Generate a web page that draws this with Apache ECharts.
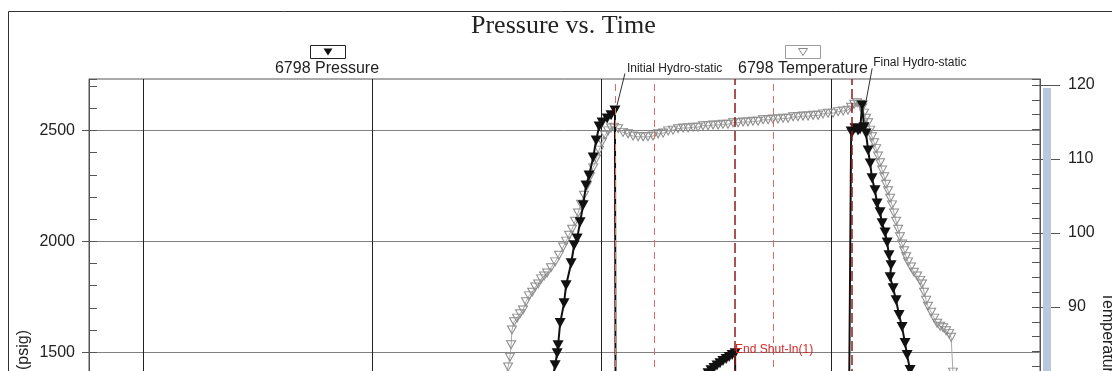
<!DOCTYPE html>
<html>
<head>
<meta charset="utf-8">
<title>Pressure vs. Time</title>
<script src="https://cdn.jsdelivr.net/npm/echarts@6.0.0/dist/echarts.min.js"></script>
<style>
  html, body { margin: 0; padding: 0; background: #fff; }
  #chart { width: 1112px; height: 371px; }
</style>
</head>
<body>
<div id="chart"></div>
<script>
(function () {
  'use strict';

  /* values: time in hours, pressure in psig, temperature */
  var pressureTime = [2.780, 2.797, 2.806, 2.810, 2.819, 2.836, 2.845, 2.867, 2.880, 2.893,
    2.906, 2.919, 2.932, 2.945, 2.963, 2.976, 2.989, 3.002, 3.024, 3.041, 3.058,
    3.063, 3.167, 3.229,
    3.255, 3.298, 3.364, 3.416, 3.451, 3.464, 3.477, 3.490, 3.503, 3.516, 3.529, 3.543, 3.556, 3.569, 3.582,
    3.586, 3.752, 3.822, 3.952, 4.079,
    4.088, 4.092, 4.105, 4.118, 4.127, 4.136, 4.144, 4.153, 4.162, 4.171, 4.179, 4.192, 4.201,
    4.214, 4.223, 4.236, 4.245, 4.253, 4.262, 4.258, 4.271, 4.284, 4.297, 4.310, 4.323, 4.332, 4.345, 4.358];
  var pressureValue = [1350, 1441, 1495, 1531, 1631, 1721, 1802, 1901, 1982, 2013,
    2086, 2162, 2252, 2297, 2378, 2455, 2518, 2536, 2554, 2568, 2590,
    150, 210, 250,
    900, 1180, 1320, 1370, 1392, 1405, 1418, 1429, 1440, 1450, 1460, 1469, 1478, 1487, 1495,
    380, 520, 1050, 1230, 1290,
    2495, 2491, 2510, 2500, 2505, 2613, 2514, 2486, 2410, 2351, 2284, 2230, 2171,
    2131, 2081, 2040, 1995, 1937, 1892, 1838, 1788, 1734, 1667, 1613, 1541, 1487, 1419, 1351];

  var tempTime = [2.579, 2.592, 2.600, 2.605, 2.609, 2.618, 2.631, 2.644, 2.657, 2.670,
    2.683, 2.697, 2.710, 2.723, 2.736, 2.749, 2.762, 2.779, 2.797, 2.814,
    2.832, 2.845, 2.858, 2.871, 2.884, 2.897, 2.910, 2.923, 2.936, 2.949,
    2.963, 2.976, 2.989, 3.002, 3.015, 3.028, 3.041, 3.054,
    3.072, 3.093, 3.115, 3.137, 3.159, 3.181, 3.202, 3.224, 3.246, 3.268,
    3.290, 3.311, 3.333, 3.355, 3.377, 3.399, 3.420, 3.442, 3.464, 3.486,
    3.508, 3.529, 3.551, 3.573, 3.595, 3.617, 3.638, 3.660, 3.682, 3.704,
    3.726, 3.747, 3.769, 3.791, 3.813, 3.835, 3.856, 3.878, 3.900, 3.922,
    3.944, 3.965, 3.987, 4.009, 4.031, 4.053, 4.074, 4.088, 4.101, 4.114, 4.127,
    4.136, 4.144, 4.153, 4.162, 4.171, 4.179, 4.188, 4.197, 4.205, 4.214,
    4.223, 4.232, 4.240, 4.249, 4.258, 4.266, 4.275, 4.284, 4.293, 4.301,
    4.310, 4.319, 4.328, 4.336, 4.349, 4.362, 4.376, 4.389, 4.397, 4.406,
    4.415, 4.423, 4.437, 4.450, 4.463, 4.476, 4.489, 4.502, 4.515, 4.524, 4.532, 4.541];
  var tempValue = [80.4, 81.9, 83.2, 84.9, 86.9, 88.0, 88.5, 89.1, 89.6, 90.7,
    91.5, 92.0, 92.7, 93.1, 93.8, 94.2, 94.6, 95.3, 96.1, 97.0,
    98.1, 98.9, 99.7, 100.5, 101.6, 102.7, 103.9, 105.1, 106.4, 107.6,
    108.8, 110.0, 111.2, 112.3, 113.2, 113.8, 114.2, 114.3,
    114.1, 113.6, 113.4, 113.1, 113.0, 113.0, 113.0, 113.1, 113.4, 113.5,
    113.8, 113.9, 114.1, 114.2, 114.2, 114.3, 114.3, 114.5, 114.5, 114.6,
    114.6, 114.7, 114.7, 114.9, 114.9, 115.0, 115.0, 115.1, 115.1, 115.3,
    115.3, 115.4, 115.4, 115.5, 115.5, 115.7, 115.7, 115.8, 115.8, 115.9,
    115.9, 116.1, 116.2, 116.2, 116.4, 116.5, 116.6, 117.0, 117.4, 117.6, 117.4,
    116.9, 116.2, 115.5, 114.9, 113.9, 113.0, 112.2, 111.4, 110.4, 109.5,
    108.5, 107.6, 106.6, 105.7, 104.7, 103.8, 102.7, 101.6, 100.5, 99.5,
    98.5, 97.6, 96.8, 96.1, 95.4, 94.7, 94.2, 93.6, 93.1, 92.0,
    90.9, 90.1, 89.3, 88.5, 87.8, 87.4, 87.2, 86.8, 86.4, 85.9, 81.2, 74.7];

  var flowEventTime = [3.063, 3.235, 3.752];
  var shutEventTime = [3.580, 4.090];

  var annotationText = ['Initial Hydro-static', 'Final Hydro-static', 'End Shut-In(1)'];
  var annotationTime = [3.058, 4.136, 3.582];
  var annotationPressure = [2590, 2613, 1495];

  var legendText = ['6798 Pressure', '6798 Temperature'];
  var axisNames = ['Pressure (psig)', 'Temperature (\u00b0F)'];

  function pairs(xs, ys) {
    return xs.map(function (x, i) { return [x, ys[i]]; });
  }

  var font = '"Liberation Sans", Arial, sans-serif';
  var tickColor = '#555';
  var plain = function (v) { return String(v); };

  var chart = echarts.init(document.getElementById('chart'));

  function eventLine(color, width, dash) {
    return function (t) {
      return { xAxis: t, lineStyle: { color: color, width: width, type: dash } };
    };
  }

  function innerTicks(grid, pos, min, max, step) {
    return {
      type: 'value', gridIndex: grid, position: pos, min: min, max: max, interval: step,
      axisLine: { show: false },
      axisTick: { show: true, inside: true, length: 8, lineStyle: { color: tickColor } },
      minorTick: { show: true, splitNumber: 5, length: 8, lineStyle: { color: tickColor } },
      axisLabel: { show: false },
      splitLine: { show: false }
    };
  }

  var xBase = {
    type: 'value', min: 0.7645, max: 4.9115, minInterval: 1, maxInterval: 1,
    axisLine: { show: false }, axisTick: { show: false }, axisLabel: { show: false }
  };

  chart.setOption({
    animation: false,
    backgroundColor: '#fff',
    title: {
      text: 'Pressure vs. Time',
      left: 466,
      top: 8,
      textStyle: { fontFamily: '"Liberation Serif", "Times New Roman", serif', fontSize: 26, fontWeight: 'normal', color: '#222' }
    },
    grid: [
      { left: 89, right: 72, top: 79, height: 384, outerBoundsMode: 'none', containLabel: false,
        show: true, borderColor: '#555', borderWidth: 1 },
      { left: 89, right: 72, top: 79, height: 450, outerBoundsMode: 'none', containLabel: false, show: false }
    ],
    xAxis: [
      Object.assign({}, xBase, {
        gridIndex: 0,
        splitLine: { show: true, showMinLine: false, showMaxLine: false, lineStyle: { color: '#222', width: 1 } }
      }),
      Object.assign({}, xBase, { gridIndex: 1, show: false, splitLine: { show: false } })
    ],
    yAxis: [
      {
        type: 'value', gridIndex: 0, position: 'left', min: 1000, max: 2732, interval: 500,
        axisLine: { show: true, onZero: false, lineStyle: { color: tickColor } },
        axisTick: { show: true, inside: false, length: 7, lineStyle: { color: tickColor } },
        axisLabel: { margin: 14, fontSize: 16, color: '#222', fontFamily: font, formatter: plain,
          showMaxLabel: false, showMinLabel: false },
        splitLine: { show: true, showMaxLine: false, lineStyle: { color: '#808080', width: 1 } }
      },
      innerTicks(0, 'left', 1000, 2732, 500),
      {
        type: 'value', gridIndex: 1, position: 'right', min: 60, max: 120.81, interval: 10,
        axisLine: { show: true, onZero: false, lineStyle: { color: tickColor } },
        axisTick: { show: true, inside: false, length: 20, lineStyle: { color: tickColor } },
        axisLabel: { margin: 28, fontSize: 16, color: '#222', fontFamily: font, formatter: plain, showMaxLabel: false },
        splitLine: { show: false }
      },
      innerTicks(1, 'right', 60, 120.81, 10)
    ],
    series: [
      {
        name: legendText[1],
        type: 'line',
        xAxisIndex: 1,
        yAxisIndex: 2,
        data: pairs(tempTime, tempValue),
        showAllSymbol: true,
        symbol: 'triangle',
        symbolRotate: 180,
        symbolSize: [9, 8],
        itemStyle: { color: 'rgba(255,255,255,0)', borderColor: '#8a8a8a', borderWidth: 1 },
        lineStyle: { color: '#a8a8a8', width: 1 },
        z: 2
      },
      {
        name: legendText[0],
        type: 'line',
        xAxisIndex: 0,
        yAxisIndex: 0,
        data: pairs(pressureTime, pressureValue),
        showAllSymbol: true,
        symbol: 'triangle',
        symbolRotate: 180,
        symbolSize: [11, 10],
        itemStyle: { color: '#111' },
        lineStyle: { color: '#111', width: 2 },
        z: 3,
        markLine: {
          silent: true,
          symbol: 'none',
          label: { show: false },
          data: flowEventTime.map(eventLine('#e06a6a', 1, [7, 5]))
            .concat(shutEventTime.map(eventLine('#8e1b1b', 1.5, [10, 4])))
        }
      }
    ]
  });

  /* labels and decorations placed from the axes' own scales */
  var px = function (i) {
    return chart.convertToPixel({ gridIndex: 0 }, [annotationTime[i], annotationPressure[i]]);
  };
  var ini = px(0), fin = px(1), esi = px(2);
  var bandTop = chart.convertToPixel({ yAxisIndex: 2 }, 119.6);
  var labelFont = '12px ' + font;

  var graphics = [
    { type: 'rect', silent: true, z: 0, shape: { x: 8.5, y: 11.5, width: 1200, height: 500 },
      style: { fill: 'none', stroke: '#333', lineWidth: 1 } },
    { type: 'rect', silent: true, z: 1, shape: { x: 1043, y: bandTop, width: 8, height: 400 },
      style: { fill: '#b9c9db' } },

    /* legend */
    { type: 'rect', shape: { x: 310.5, y: 45.5, width: 35, height: 13 }, style: { fill: '#fff', stroke: '#222', lineWidth: 1 } },
    { type: 'polygon', shape: { points: [[323.5, 48.5], [332.5, 48.5], [328, 55.5]] }, style: { fill: '#111' } },
    { type: 'text', x: 327, y: 69, style: { text: legendText[0], font: '16px ' + font, fill: '#222', align: 'center', verticalAlign: 'middle' } },
    { type: 'rect', shape: { x: 785.5, y: 45.5, width: 35, height: 13 }, style: { fill: '#fff', stroke: '#999', lineWidth: 1 } },
    { type: 'polygon', shape: { points: [[798.5, 48.5], [807.5, 48.5], [803, 55.5]] }, style: { fill: 'none', stroke: '#888', lineWidth: 1 } },
    { type: 'text', x: 803, y: 69, style: { text: legendText[1], font: '16px ' + font, fill: '#222', align: 'center', verticalAlign: 'middle' } },

    /* axis titles */
    { type: 'text', x: 24, y: 330, rotation: Math.PI / 2,
      style: { text: axisNames[0], font: '16px ' + font, fill: '#222', align: 'right', verticalAlign: 'middle' } },
    { type: 'text', x: 1107, y: 292, rotation: -Math.PI / 2,
      style: { text: axisNames[1], font: '16px ' + font, fill: '#222', align: 'left', verticalAlign: 'middle' } },

    /* annotations */
    { type: 'line', z: 10, shape: { x1: ini[0] + 2, y1: ini[1] - 5, x2: ini[0] + 10, y2: ini[1] - 37 }, style: { stroke: '#333', lineWidth: 1 } },
    { type: 'text', z: 10, x: ini[0] + 12, y: ini[1] - 42, style: { text: annotationText[0], font: labelFont, fill: '#222', verticalAlign: 'middle' } },
    { type: 'line', z: 10, shape: { x1: fin[0] + 4, y1: fin[1] - 5, x2: fin[0] + 10, y2: fin[1] - 37 }, style: { stroke: '#333', lineWidth: 1 } },
    { type: 'text', z: 10, x: fin[0] + 11, y: fin[1] - 43, style: { text: annotationText[1], font: labelFont, fill: '#222', verticalAlign: 'middle' } },
    { type: 'text', z: 10, x: esi[0], y: esi[1] - 4, style: { text: annotationText[2], font: labelFont, fill: '#d42a2a', verticalAlign: 'middle' } }
  ];

  chart.setOption({ graphic: graphics });
})();
</script>
</body>
</html>
